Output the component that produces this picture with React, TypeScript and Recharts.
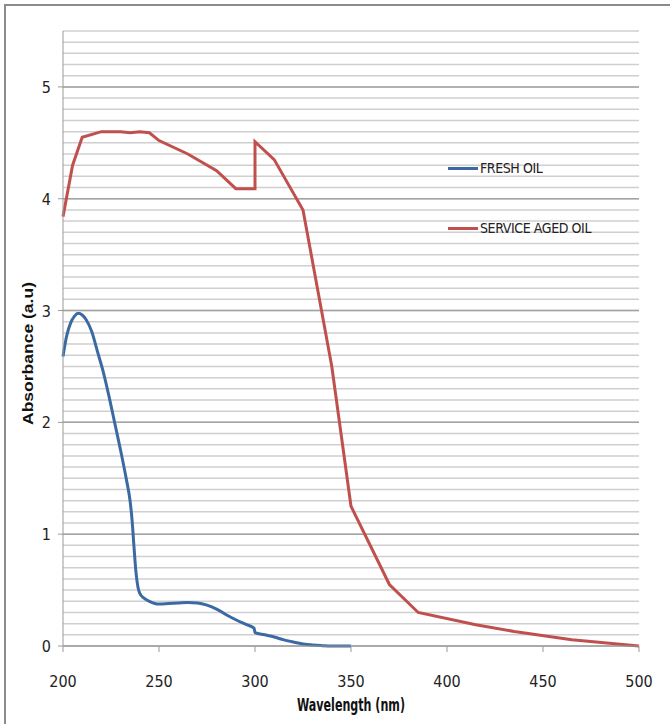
import React from "react";
import {
  LineChart, Line, XAxis, YAxis, CartesianGrid, Label,
} from "recharts";

// wavelength (nm) / absorbance (a.u)
const FRESH_WL = [
  200, 202, 204, 206, 208, 210, 212, 215, 218, 221, 224, 227, 230, 233, 235,
  236, 237, 238, 239, 240, 242, 245, 250, 255, 260, 265, 270, 275, 280, 285,
  290, 295, 299.5, 300, 305, 310, 315, 320, 325, 330, 335, 340, 345, 350,
];
const FRESH_ABS = [
  2.59, 2.78, 2.89, 2.95, 2.975, 2.96, 2.92, 2.81, 2.63, 2.45, 2.23, 1.99, 1.75, 1.49, 1.29,
  1.12, 0.88, 0.66, 0.53, 0.47, 0.43, 0.4, 0.375, 0.38, 0.385, 0.39, 0.385, 0.365, 0.33, 0.28,
  0.235, 0.195, 0.16, 0.12, 0.1, 0.08, 0.055, 0.035, 0.018, 0.008, 0.003, 0, 0, 0,
];

const AGED_WL = [
  200, 205, 210, 220, 230, 235, 240, 245, 250, 265, 280, 290, 300, 300,
  310, 325, 340, 350, 370, 385, 415, 435, 465, 500,
];
const AGED_ABS = [
  3.84, 4.3, 4.55, 4.6, 4.6, 4.59, 4.6, 4.59, 4.52, 4.4, 4.25, 4.09, 4.09, 4.51,
  4.35, 3.9, 2.5, 1.25, 0.55, 0.3, 0.19, 0.13, 0.055, 0,
];

const X_TICKS = [200, 250, 300, 350, 400, 450, 500];
const Y_TICKS = [0, 1, 2, 3, 4, 5];
const Y_MAX = 5.5;

const freshData = FRESH_WL.map((wl, i) => ({ wl, abs: FRESH_ABS[i] }));
const agedData = AGED_WL.map((wl, i) => ({ wl, abs: AGED_ABS[i] }));

const BLUE = "#3b6aa3";
const RED = "#c0504d";
const FONT = "'Liberation Sans Narrow', 'DejaVu Sans Condensed', 'Liberation Sans', sans-serif";
const TEXT = "#222";

// minor gridlines every 0.1 up to the top of the plot
const minorValues = Array.from({ length: 55 }, (_, i) => (i + 1) / 10);

function gridGen(values: number[]) {
  return ({ offset }: any) =>
    values.map((v) => offset.top + offset.height * (1 - v / Y_MAX));
}

function XTick({ x, y, payload }: any) {
  return (
    <text x={x} y={y + 33} textAnchor="middle" fontFamily={FONT} fontSize={16} fill={TEXT}>
      {payload.value}
    </text>
  );
}

function YTick({ x, y, payload }: any) {
  return (
    <text x={x - 5} y={y + 6} textAnchor="end" fontFamily={FONT} fontSize={16} fill={TEXT}>
      {payload.value}
    </text>
  );
}

// axis titles are squeezed/stretched like the source image
function XTitle({ viewBox }: any) {
  const cx = viewBox.x + viewBox.width / 2;
  return (
    <text x={cx} y={711} textAnchor="middle" fontFamily={FONT} fontSize={17} fontWeight={700} fill="#111"
      textLength={108} lengthAdjust="spacingAndGlyphs">
      Wavelength (nm)
    </text>
  );
}

function YTitle({ viewBox }: any) {
  const cy = viewBox.y + viewBox.height / 2;
  return (
    <text x={0} y={0} transform={`translate(33, ${cy + 15}) rotate(-90)`} textAnchor="middle"
      fontFamily="'Liberation Sans', Arial, sans-serif" fontSize={15} fontWeight={700} fill="#111"
      textLength={143} lengthAdjust="spacingAndGlyphs">
      Absorbance (a.u)
    </text>
  );
}

function LegendBox() {
  const items = [
    { name: "FRESH OIL", color: BLUE },
    { name: "SERVICE AGED OIL", color: RED },
  ];
  return (
    <div style={{ position: "absolute", left: 448, top: 159, display: "flex", flexDirection: "column", gap: 42 }}>
      {items.map((it) => (
        <div key={it.name} style={{ display: "flex", alignItems: "center", height: 18 }}>
          <div style={{ width: 30, height: 3, background: it.color, marginRight: 2 }} />
          <span style={{ fontFamily: FONT, fontSize: 14, color: TEXT, letterSpacing: -0.4 }}>{it.name}</span>
        </div>
      ))}
    </div>
  );
}

export default function App() {
  return (
    <div style={{ position: "absolute", left: 0, top: 0, width: 670, height: 724, background: "#fff" }}>
      <div style={{
        position: "absolute", left: 4, top: 4, right: 0, bottom: 0,
        borderLeft: "2px solid #8c8c8c", borderTop: "2px solid #8c8c8c",
      }} />
      <div style={{ position: "absolute", left: 0, top: 0 }}>
        <LineChart width={670} height={724} margin={{ top: 31, right: 31, bottom: 0, left: 0 }}>
          <CartesianGrid
            vertical={false}
            stroke="#cfcfcf"
            strokeWidth={1.5}
            horizontalCoordinatesGenerator={gridGen(minorValues)}
          />
          <CartesianGrid
            vertical={false}
            stroke="#a3a3a3"
            strokeWidth={1.5}
            horizontalCoordinatesGenerator={gridGen(Y_TICKS)}
          />
          <XAxis
            dataKey="wl"
            type="number"
            domain={[200, 500]}
            ticks={X_TICKS}
            allowDuplicatedCategory={false}
            height={78}
            stroke="#9a9a9a"
            tickSize={6}
            tick={<XTick />}
          >
            <Label content={<XTitle />} />
          </XAxis>
          <YAxis
            type="number"
            domain={[0, Y_MAX]}
            ticks={Y_TICKS}
            width={63}
            stroke="#9a9a9a"
            tickSize={5}
            tick={<YTick />}
          >
            <Label content={<YTitle />} />
          </YAxis>
          <Line
            data={freshData}
            dataKey="abs"
            name="FRESH OIL"
            type="monotone"
            stroke={BLUE}
            strokeWidth={3}
            dot={false}
            isAnimationActive={false}
          />
          <Line
            data={agedData}
            dataKey="abs"
            name="SERVICE AGED OIL"
            type="linear"
            stroke={RED}
            strokeWidth={3}
            dot={false}
            isAnimationActive={false}
          />
        </LineChart>
      </div>
      <LegendBox />
    </div>
  );
}
